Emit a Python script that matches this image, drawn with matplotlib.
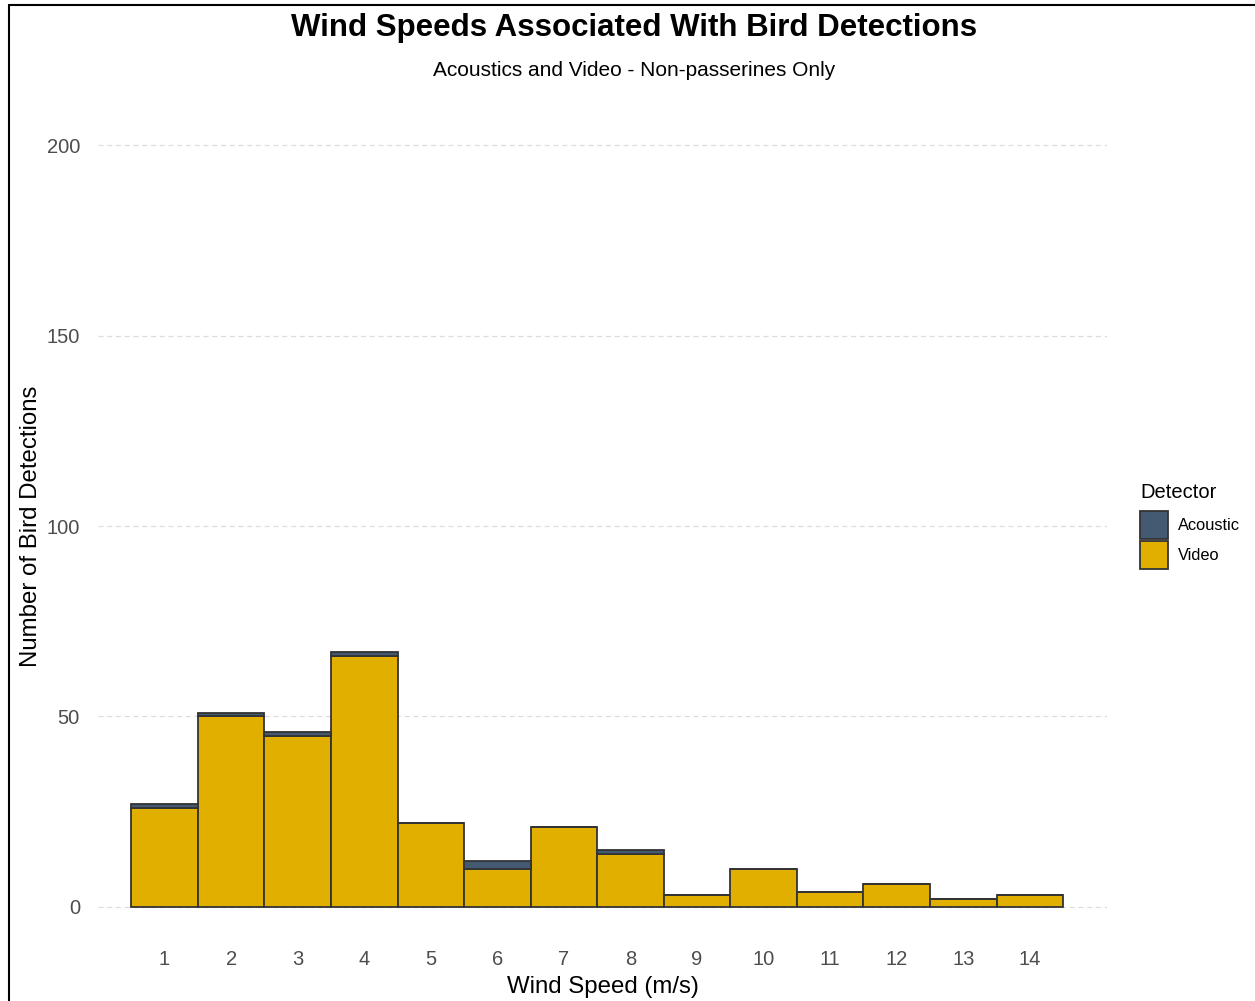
import matplotlib.pyplot as plt
from matplotlib.patches import Patch, Rectangle

# wind speed bins (m/s) and detection counts per detector
wind_speed = [1, 2, 3, 4, 5, 6, 7, 8, 9, 10, 11, 12, 13, 14]
video = [26, 50, 45, 66, 22, 10, 21, 14, 3, 10, 4, 6, 2, 3]
acoustic = [1, 1, 1, 1, 0, 2, 0, 1, 0, 0, 0, 0, 0, 0]

col_video = "#E1AF00"
col_acoustic = "#435A72"
edge = "#333333"

plt.rcParams['font.family'] = ['Liberation Sans', 'DejaVu Sans']

fig = plt.figure(figsize=(12.55, 10.01), dpi=100)
ax = fig.add_axes([98 / 1255, 1 - 945 / 1001, (1107 - 98) / 1255, (945 - 107) / 1001])

ax.bar(wind_speed, video, width=1, color=col_video, edgecolor=edge, linewidth=1.3, zorder=3)
ax.bar(wind_speed, acoustic, width=1, bottom=video, color=col_acoustic,
       edgecolor=edge, linewidth=1.3, zorder=3)

ax.set_xlim(0, 15.16)
ax.set_ylim(-10, 210)
ax.set_yticks([0, 50, 100, 150, 200])
ax.set_xticks(wind_speed)
ax.grid(axis='y', color='#DDDDDD', linestyle=(0, (4, 3)), linewidth=0.9, zorder=0)
ax.tick_params(length=0, labelsize=14.5, labelcolor='#4D4D4D')
ax.tick_params(axis='x', pad=3.5)
ax.tick_params(axis='y', pad=13)
for s in ax.spines.values():
    s.set_visible(False)

ax.set_xlabel('Wind Speed (m/s)', fontsize=17.3, labelpad=5)
ax.set_ylabel('Number of Bird Detections', fontsize=17.3, labelpad=3)

fig.text(634 / 1255, 1 - 28 / 1001, 'Wind Speeds Associated With Bird Detections',
         ha='center', va='center', fontsize=22.5, fontweight='bold')
fig.text(634 / 1255, 1 - 71 / 1001, 'Acoustics and Video - Non-passerines Only',
         ha='center', va='center', fontsize=15)

# legend: title as separate text, keys below it
fig.text(1140 / 1255, 1 - 492 / 1001, 'Detector', ha='left', va='center', fontsize=14.5)
handles = [Patch(facecolor=col_acoustic, edgecolor=edge, linewidth=1.3, label='Acoustic'),
           Patch(facecolor=col_video, edgecolor=edge, linewidth=1.3, label='Video')]
leg = fig.legend(handles=handles, loc='upper left',
                 bbox_to_anchor=(1140 / 1255, 1 - 511 / 1001), frameon=False,
                 fontsize=11.8, handlelength=1.71, handleheight=2.25,
                 labelspacing=0.1, handletextpad=0.6, borderaxespad=0, borderpad=0)

# border around the figure (left and top visible)
fig.patches.append(Rectangle((9 / 1255, -0.05), 1.1, 1 - 5 / 1001 + 0.05,
                             transform=fig.transFigure, fill=False,
                             edgecolor='black', linewidth=1.5))

fig.savefig('out.png', dpi=100)
